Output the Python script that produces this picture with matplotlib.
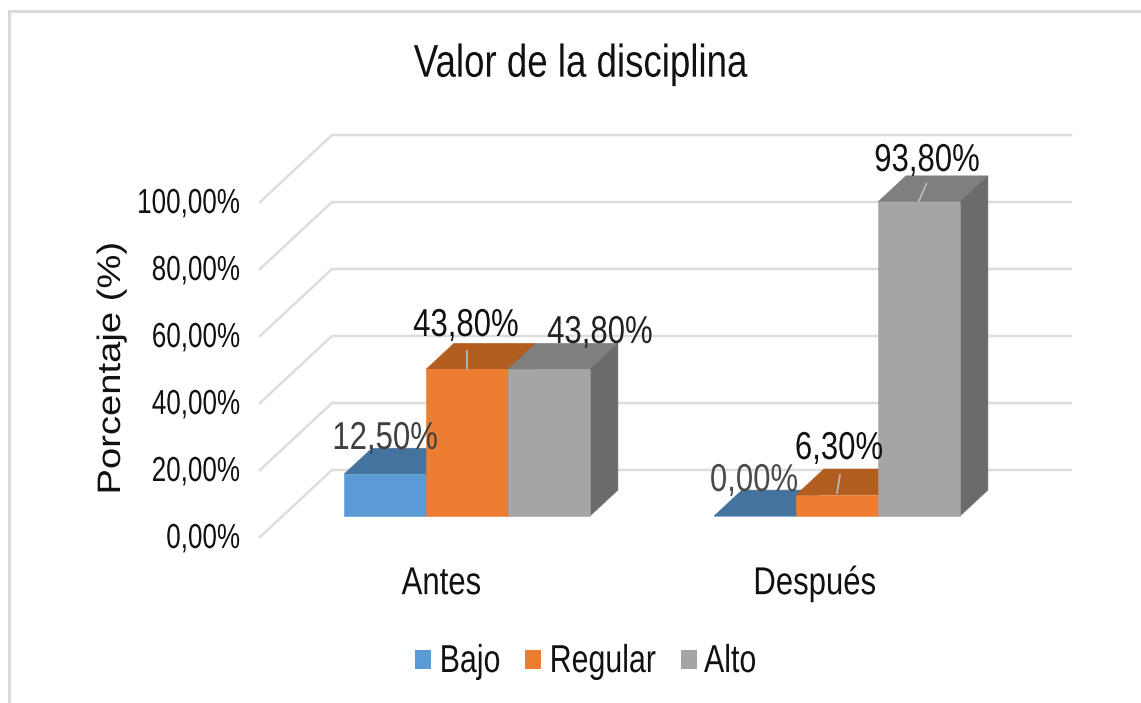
import matplotlib
matplotlib.use("Agg")
from matplotlib import pyplot as plt
from matplotlib.lines import Line2D
from matplotlib.patches import Polygon, Rectangle
from matplotlib.patheffects import AbstractPathEffect
from matplotlib.transforms import Affine2D, ScaledTranslation

W, H = 1141, 703

groups = ["Antes", "Después"]
series = ["Bajo", "Regular", "Alto"]
bajo = [12.5, 0.0]
regular = [43.8, 6.3]
alto = [43.8, 93.8]
value_labels = [["12,50%", "0,00%"], ["43,80%", "6,30%"], ["43,80%", "93,80%"]]
yticks = [0, 20, 40, 60, 80, 100]
yticklabels = ["0,00%", "20,00%", "40,00%", "60,00%", "80,00%", "100,00%"]

front = ["#5B9BD5", "#ED7D31", "#A5A5A5"]
top = ["#4573A0", "#B25E21", "#7F7F7F"]
side = ["#3E6890", "#A05520", "#6B6B6B"]
label_colors = [["#404040", "#4a4a4a"], ["#111111", "#111111"], ["#222222", "#111111"]]
# label centre and baseline, image pixels
label_pos = [[(385, 449), (754, 491)], [(466, 336), (839, 459)], [(600, 343), (927, 171)]]
# legend swatch left edge and text left edge, image pixels
legend_x = [(415, 439), (525, 549), (681, 704)]

bar_w = 82 / 370
# depth: 0 at the front edge of the floor, 1 at the back wall
depth_dx = 72 / 370
depth_dy = 67 / 3.35
bar_d0, bar_d1 = 0.313, 0.70


class Squeeze(AbstractPathEffect):
    # the reference picture was squashed sideways, so its letters are narrow
    def __init__(self, sx=1.0, sy=1.0, anchor="center"):
        super().__init__()
        self.sx, self.sy, self.anchor = sx, sy, anchor

    def draw_path(self, renderer, gc, tpath, affine, rgbFace=None):
        e = tpath.get_extents()
        c = {"left": e.x0, "center": (e.x0 + e.x1) / 2, "right": e.x1}[self.anchor]
        t = Affine2D().translate(-c, 0).scale(self.sx, self.sy).translate(c, 0) + affine
        renderer.draw_path(gc, tpath, t, rgbFace)


plt.rcParams["font.family"] = ["Liberation Sans", "DejaVu Sans"]

fig = plt.figure(figsize=(W / 100, H / 100), dpi=100)
ax = fig.add_axes([260 / W, 1 - 537 / H, 811 / W, 402 / H])
ax.set_xlim(-184.5 / 370, 626.5 / 370)
ax.set_ylim(0, 120)
for s in ax.spines.values():
    s.set_visible(False)


def proj(x, y, d):
    return x + d * depth_dx, y + d * depth_dy


# walls
for v in yticks:
    x0, y0 = proj(ax.get_xlim()[0], v, 0)
    x1, y1 = proj(ax.get_xlim()[0], v, 1)
    ax.plot([x0, x1, ax.get_xlim()[1]], [y0, y1, y1], color="#DDDDDD", lw=1.8,
            clip_on=False, zorder=1, solid_joinstyle="miter")

# bars, left to right so each one covers the last
z = 2
for g in range(len(groups)):
    for i, vals in enumerate([bajo, regular, alto]):
        v = vals[g]
        xl = g + (i - 1.5) * bar_w
        xr = xl + bar_w
        faces = [
            ([proj(xl, v, bar_d0), proj(xr, v, bar_d0), proj(xr, v, bar_d1), proj(xl, v, bar_d1)], top[i]),
            ([proj(xr, 0, bar_d0), proj(xr, v, bar_d0), proj(xr, v, bar_d1), proj(xr, 0, bar_d1)], side[i]),
            ([proj(xl, 0, bar_d0), proj(xr, 0, bar_d0), proj(xr, v, bar_d0), proj(xl, v, bar_d0)], front[i]),
        ]
        for pts, c in faces:
            ax.add_patch(Polygon(pts, closed=True, fc=c, ec=c, lw=0.4, zorder=z, clip_on=False))
            z += 1

# leader lines from the labels that sit away from their bar
leaders = [
    (0, regular[0], 0, 5.4),
    (1, regular[1] + 0.6, 0.008, 5.3),
    (1 + bar_w, alto[1] + 0.3, 0.02, 5.1),
]
for x, y, dx, dy in leaders:
    ax.add_line(Line2D(*zip(proj(x, y, bar_d0), proj(x + dx, y + dy, bar_d0)),
                       color="#B8B8B8", lw=1.3, zorder=z))

for i in range(3):
    for g in range(2):
        px, py = label_pos[i][g]
        fig.text(px / W, 1 - py / H, value_labels[i][g], ha="center", va="baseline", fontsize=28,
                 color=label_colors[i][g], zorder=50, path_effects=[Squeeze(0.8)])

ax.set_xticks(range(len(groups)), groups)
ax.set_yticks(yticks, yticklabels)
ax.tick_params(axis="both", length=0, colors="#111111")
ax.tick_params(axis="x", labelsize=28, pad=21)
ax.tick_params(axis="y", labelsize=25, pad=14)
for lbl in ax.get_xticklabels():
    lbl.set_path_effects([Squeeze(0.8)])
for lbl in ax.get_yticklabels():
    lbl.set_path_effects([Squeeze(0.75, anchor="right")])
    lbl.set_transform(lbl.get_transform() + ScaledTranslation(0, 2 / 100, fig.dpi_scale_trans))
ant = ax.get_xticklabels()[0]
ant.set_transform(ant.get_transform() + ScaledTranslation(-3 / 100, 0, fig.dpi_scale_trans))

ax.set_ylabel("Porcentaje (%)", fontsize=27.5, color="#111111", path_effects=[Squeeze(1.0, 0.85)])
ax.yaxis.set_label_coords((128 - 260) / 811, (537 - 368) / 402)
ax.set_title("Valor de la disciplina", fontsize=33, color="#111111", x=(581 - 260) / 811, pad=42,
             path_effects=[Squeeze(0.8)])

for (sx, tx), c, name in zip(legend_x, front, series):
    fig.add_artist(Rectangle((sx / W, 1 - 669 / H), 16 / W, 19 / H, fc=c, ec="none",
                             transform=fig.transFigure))
    fig.text(tx / W, 1 - 672 / H, name, ha="left", va="baseline", fontsize=28, color="#111111",
             path_effects=[Squeeze(0.78, anchor="left")])

# outer frame of the pasted picture, top and left only
fig.add_artist(Line2D([8.5 / W, 8.5 / W, 1], [0, 1 - 10.5 / H, 1 - 10.5 / H], color="#D9D9D9", lw=2.2,
                      solid_joinstyle="miter"))

plt.savefig("out.png", dpi=100)
